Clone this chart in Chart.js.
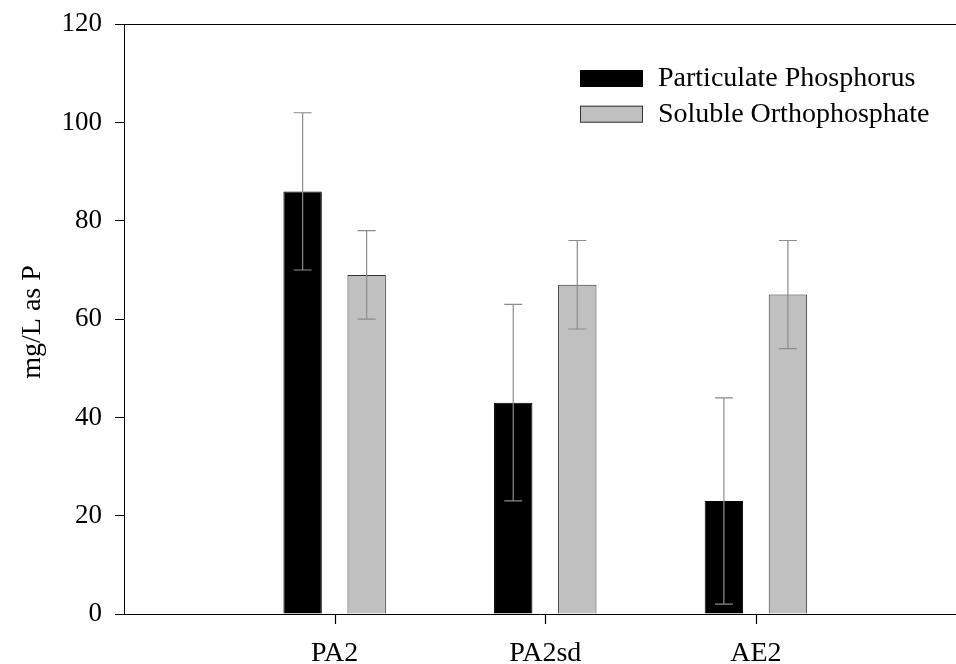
<!DOCTYPE html>
<html>
<head>
<meta charset="utf-8">
<script src="https://cdn.jsdelivr.net/npm/chart.js@4/dist/chart.umd.min.js"></script>
<style>
  html, body { margin: 0; padding: 0; background: #fff; overflow: hidden; }
  #wrap { width: 956px; height: 664px; }
</style>
</head>
<body>
<div id="wrap"><canvas id="myChart"></canvas></div>
<script>
const categories = ['PA2', 'PA2sd', 'AE2'];
const positions = [1, 2, 3];
const particulate = [86, 43, 23];
const particulateErr = [16, 20, 21];
const soluble = [69, 67, 65];
const solubleErr = [9, 9, 11];
const yTicks = [0, 20, 40, 60, 80, 100, 120];

const serif = '"Liberation Serif", "Times New Roman", serif';

// vertical error bars with caps, drawn over each bar
const errorBars = {
    id: 'errorBars',
    afterDatasetsDraw(chart) {
        const ctx = chart.ctx;
        const y = chart.scales.y;
        ctx.save();
        ctx.strokeStyle = '#8c8c8c';
        ctx.lineWidth = 1.2;
        chart.data.datasets.forEach((ds, i) => {
            const meta = chart.getDatasetMeta(i);
            meta.data.forEach((bar, j) => {
                const v = ds.data[j].y, e = ds.errors[j];
                const top = y.getPixelForValue(v + e);
                const bot = y.getPixelForValue(v - e);
                ctx.beginPath();
                ctx.moveTo(bar.x, top); ctx.lineTo(bar.x, bot);
                ctx.moveTo(bar.x - 9, top); ctx.lineTo(bar.x + 9, top);
                ctx.moveTo(bar.x - 9, bot); ctx.lineTo(bar.x + 9, bot);
                ctx.stroke();
            });
        });
        ctx.restore();
    }
};

// top frame line, x tick marks, y title and the legend box
const frame = {
    id: 'frame',
    afterDraw(chart) {
        const ctx = chart.ctx;
        const a = chart.chartArea;
        const xs = chart.scales.x;
        ctx.save();
        ctx.strokeStyle = '#000';
        ctx.lineWidth = 1;
        ctx.beginPath();
        ctx.moveTo(a.left, Math.round(a.top) + 0.5);
        ctx.lineTo(a.right, Math.round(a.top) + 0.5);
        ctx.stroke();

        ctx.lineWidth = 1.2;
        positions.forEach(p => {
            const px = Math.round(xs.getPixelForValue(p)) + 0.5;
            ctx.beginPath();
            ctx.moveTo(px, a.bottom + 1);
            ctx.lineTo(px, a.bottom + 10);
            ctx.stroke();
        });

        ctx.fillStyle = '#000';
        ctx.font = '28px ' + serif;
        ctx.translate(33, 322);
        ctx.rotate(-Math.PI / 2);
        ctx.textAlign = 'center';
        ctx.textBaseline = 'middle';
        ctx.fillText('mg/L as P', 0, 0);
        ctx.restore();

        ctx.save();
        ctx.font = '28px ' + serif;
        ctx.textBaseline = 'middle';
        chart.data.datasets.forEach((ds, i) => {
            const by = 70 + i * 35.7;
            ctx.fillStyle = ds.backgroundColor;
            ctx.fillRect(580, by, 63, 17);
            ctx.strokeStyle = ds.borderColor;
            ctx.lineWidth = 1;
            ctx.strokeRect(580.5, by + 0.5, 62, 16);
            ctx.fillStyle = '#000';
            ctx.fillText(ds.label, 658, by + 9);
        });
        ctx.restore();
    }
};

const data = {
    datasets: [{
        label: 'Particulate Phosphorus',
        data: positions.map((x, i) => ({ x: x, y: particulate[i] })),
        errors: particulateErr,
        backgroundColor: '#000000',
        borderColor: '#000000',
        borderWidth: 1
    }, {
        label: 'Soluble Orthophosphate',
        data: positions.map((x, i) => ({ x: x, y: soluble[i] })),
        errors: solubleErr,
        backgroundColor: '#c0c0c0',
        borderColor: '#333333',
        borderWidth: 1
    }]
};

const config = {
    type: 'bar',
    data: data,
    options: {
        responsive: true,
        maintainAspectRatio: false,
        animation: false,
        categoryPercentage: 0.608,
        barPercentage: 0.6,
        layout: { padding: 0 },
        plugins: {
            legend: { display: false },
            tooltip: { enabled: false }
        },
        scales: {
            x: {
                type: 'linear',
                min: 0,
                max: 3.95,
                offset: false,
                afterBuildTicks: (scale) => {
                    scale.ticks = positions.map(v => ({ value: v }));
                },
                afterFit: (scale) => { scale.height = 50; },
                ticks: {
                    color: '#000',
                    font: { family: serif, size: 28 },
                    padding: 14,
                    maxRotation: 0,
                    callback: (v) => categories[positions.indexOf(v)]
                },
                grid: { display: false, tickLength: 9 },
                border: { display: true, color: '#000', width: 1 }
            },
            y: {
                min: 0,
                max: 120,
                afterBuildTicks: (scale) => {
                    scale.ticks = yTicks.map(v => ({ value: v }));
                },
                afterFit: (scale) => {
                    scale.width = 124;
                    scale.paddingTop = 24.3;
                    scale.paddingBottom = 0;
                },
                ticks: {
                    color: '#000',
                    font: { family: serif, size: 27 },
                    padding: 13
                },
                grid: {
                    drawOnChartArea: false,
                    tickLength: 9,
                    color: '#000'
                },
                border: { display: true, color: '#000', width: 1 }
            }
        }
    },
    plugins: [errorBars, frame]
};

const myChart = new Chart(document.getElementById('myChart'), config);
</script>
</body>
</html>
